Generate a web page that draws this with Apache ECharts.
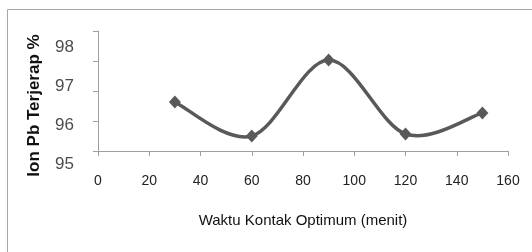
<!DOCTYPE html>
<html>
<head>
<meta charset="utf-8">
<script src="https://cdn.jsdelivr.net/npm/echarts@6/dist/echarts.min.js"></script>
<style>
  html, body { margin: 0; padding: 0; background: #fff; }
  #chart { width: 532px; height: 252px; }
</style>
</head>
<body>
<div id="chart"></div>
<script>
// data
var waktu = [30, 60, 90, 120, 150];
var ionPb = [96.63, 95.5, 98.03, 95.57, 96.27];
var xTicks = [0, 20, 40, 60, 80, 100, 120, 140, 160];
var yLabels = [95, 96, 97, 98];

var LINE_COLOR = '#595959';
var points = waktu.map(function (w, i) { return [w, ionPb[i]]; });

// excel style smoothed line (catmull-rom through the points, in pixel space)
function renderCurve(params, api) {
    if (params.dataIndex !== 0) return null;
    var p = points.map(function (d) { return api.coord(d); });
    var n = p.length;
    var d = 'M' + p[0][0] + ' ' + p[0][1];
    for (var i = 0; i < n - 1; i++) {
        var p0 = p[Math.max(i - 1, 0)];
        var p1 = p[i];
        var p2 = p[i + 1];
        var p3 = p[Math.min(i + 2, n - 1)];
        var c1x = p1[0] + (p2[0] - p0[0]) / 6, c1y = p1[1] + (p2[1] - p0[1]) / 6;
        var c2x = p2[0] - (p3[0] - p1[0]) / 6, c2y = p2[1] - (p3[1] - p1[1]) / 6;
        d += ' C' + c1x + ' ' + c1y + ' ' + c2x + ' ' + c2y + ' ' + p2[0] + ' ' + p2[1];
    }
    return {
        type: 'path',
        shape: { pathData: d },
        style: { fill: 'none', stroke: LINE_COLOR, lineWidth: 3.5 }
    };
}

var chart = echarts.init(document.getElementById('chart'));

var option = {
    animation: false,
    graphic: [{
        type: 'rect',
        shape: { x: 7.5, y: 9.5, width: 540, height: 260 },
        style: { fill: 'none', stroke: '#a6a6a6', lineWidth: 1 },
        silent: true
    }],
    grid: [
        // plot area
        { left: 98, top: 31, right: 24, bottom: 101 },
        // only carries the y tick labels, they sit off the ticks in the source
        { left: 98, top: 47, right: 24, bottom: 88 }
    ],
    xAxis: [{
        gridIndex: 0,
        type: 'value',
        min: xTicks[0],
        max: xTicks[xTicks.length - 1],
        interval: 20,
        axisLine: { lineStyle: { color: '#a0a0a0', width: 1 } },
        axisTick: { show: true, inside: false, length: 5, lineStyle: { color: '#a0a0a0' } },
        splitLine: { show: false },
        axisLabel: {
            margin: 23,
            color: '#222',
            fontFamily: '"Liberation Sans", Arial, sans-serif',
            fontSize: 14
        },
        name: 'Waktu Kontak Optimum (menit)',
        nameLocation: 'middle',
        nameGap: 62,
        nameTextStyle: {
            color: '#111',
            fontFamily: '"Liberation Sans", Arial, sans-serif',
            fontSize: 15
        }
    }, {
        gridIndex: 1,
        type: 'value',
        show: false
    }],
    yAxis: [{
        gridIndex: 0,
        type: 'value',
        min: 95,
        max: 99,
        interval: 1,
        axisLine: { show: true, lineStyle: { color: '#a0a0a0', width: 1 } },
        axisTick: { show: true, inside: false, length: 5, lineStyle: { color: '#a0a0a0' } },
        splitLine: { show: false },
        axisLabel: { show: false }
    }, {
        gridIndex: 1,
        type: 'value',
        min: yLabels[0],
        max: yLabels[yLabels.length - 1],
        interval: 1,
        axisLine: { show: false },
        axisTick: { show: false },
        splitLine: { show: false },
        axisLabel: {
            margin: 24,
            color: '#4d4d4d',
            fontFamily: '"Liberation Sans", Arial, sans-serif',
            fontSize: 17
        },
        name: 'Ion Pb Terjerap %',
        nameLocation: 'middle',
        nameGap: 55,
        nameTextStyle: {
            color: '#111',
            fontWeight: 'bold',
            fontFamily: '"Liberation Sans", Arial, sans-serif',
            fontSize: 17
        }
    }],
    series: [{
        type: 'custom',
        xAxisIndex: 0,
        yAxisIndex: 0,
        data: points,
        renderItem: renderCurve,
        silent: true,
        z: 1
    }, {
        type: 'line',
        xAxisIndex: 0,
        yAxisIndex: 0,
        data: points,
        symbol: 'diamond',
        symbolSize: [12, 13],
        lineStyle: { width: 0, opacity: 0 },
        itemStyle: { color: LINE_COLOR },
        z: 3
    }]
};

chart.setOption(option);
</script>
</body>
</html>
